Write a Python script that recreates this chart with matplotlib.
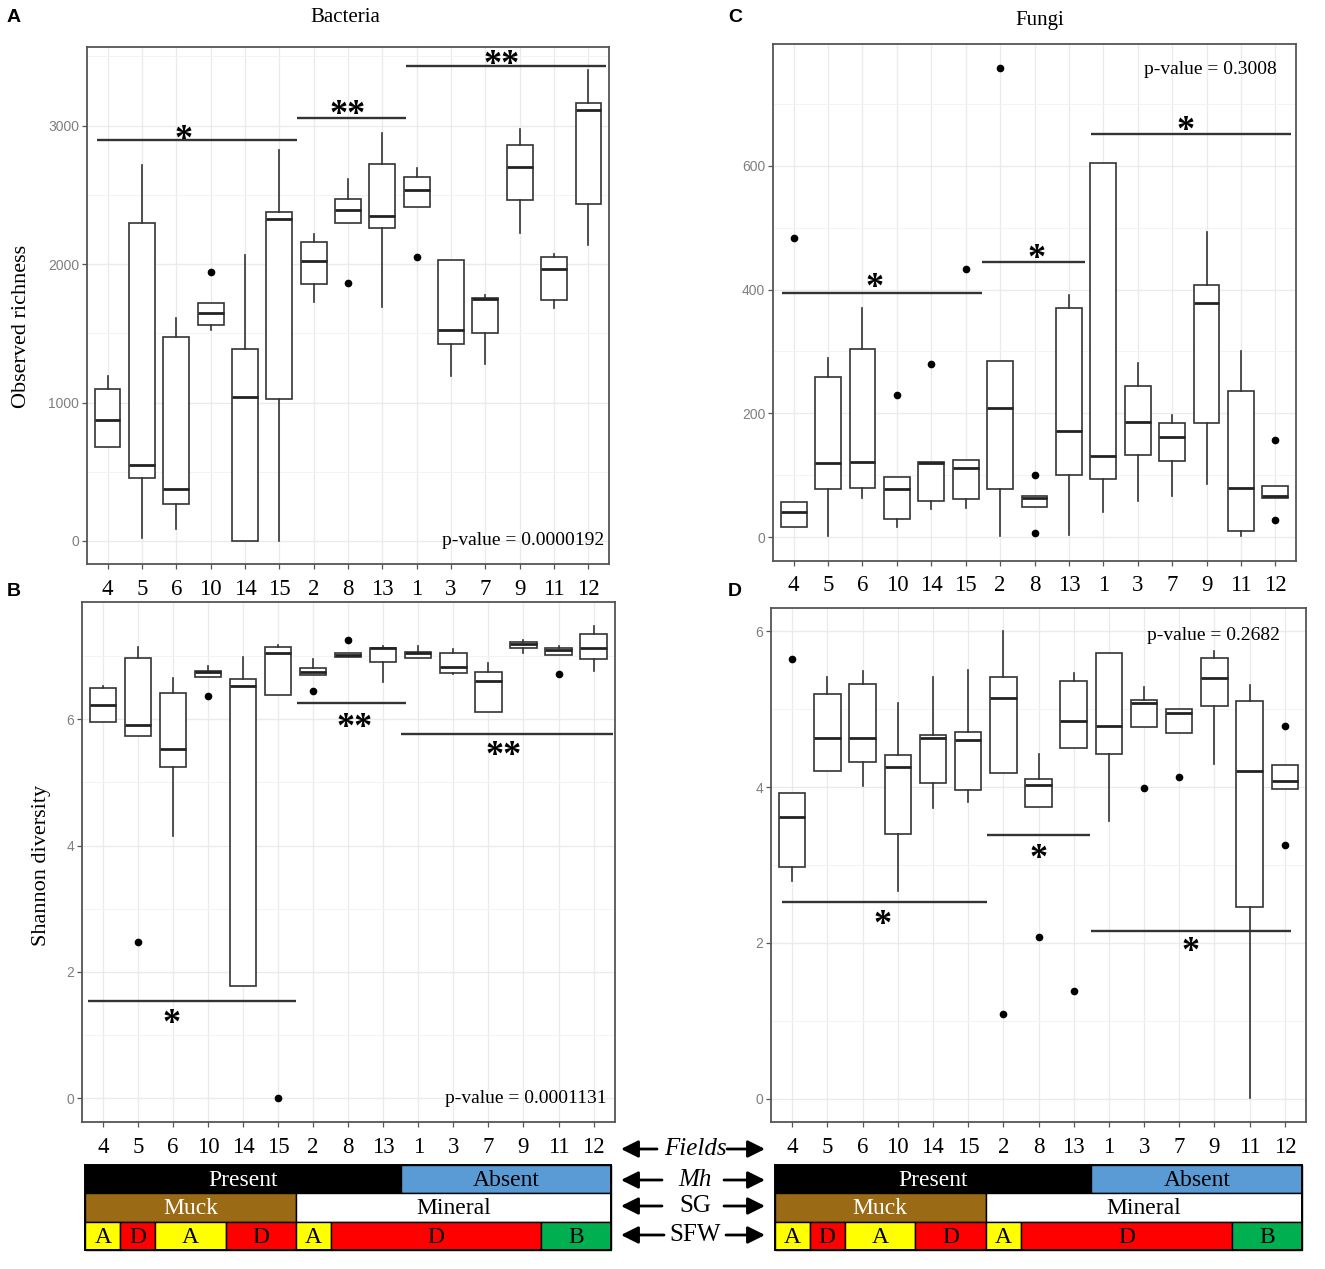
import matplotlib
matplotlib.use('Agg')
import matplotlib.pyplot as plt
from matplotlib.ticker import MultipleLocator, FixedLocator
from matplotlib.patches import Rectangle, FancyArrowPatch
import matplotlib.transforms as mtransforms

W, H = 1325, 1269
SERIF = ['Liberation Serif', 'DejaVu Serif']
SANS = ['Liberation Sans', 'DejaVu Sans']

# ---------------- data ----------------
fields = ['4', '5', '6', '10', '14', '15', '2', '8', '13', '1', '3', '7', '9', '11', '12']

# A: Bacteria observed richness
A_whi = [1195, 2713, 1609, 1717, 2062, 2824, 2214, 2614, 2945, 2691, 2029, 1775, 2973, 2070, 3400]
A_q3 = [1096, 2299, 1471, 1717, 1388, 2374, 2161, 2470, 2724, 2630, 2029, 1758, 2862, 2051, 3160]
A_med = [875, 552, 378, 1648, 1041, 2324, 2020, 2388, 2349, 2534, 1526, 1750, 2699, 1965, 3111]
A_q1 = [682, 455, 270, 1559, 0, 1027, 1858, 2299, 2258, 2415, 1421, 1504, 2462, 1739, 2434]
A_wlo = [682, 19, 83, 1526, 0, 0, 1725, 2299, 1689, 2415, 1192, 1278, 2222, 1684, 2139]
A_out = [[], [], [], [1940], [], [], [], [1863], [], [2051], [], [], [], [], []]
A_sig = [(0.69, 6.52, 2893), (6.52, 9.69, 3058), (9.69, 15.5, 3428)]
A_stars = [(3.22, 2953, '*'), (7.99, 3133, '**'), (12.46, 3497, '**')]
A_p = 'p-value = 0.0000192'

# B: Bacteria Shannon diversity
B_whi = [6.52, 7.14, 6.65, 6.84, 6.99, 7.17, 6.95, 7.04, 7.15, 7.15, 7.11, 6.89, 7.25, 7.15, 7.48]
B_q3 = [6.49, 6.97, 6.42, 6.77, 6.63, 7.14, 6.81, 7.04, 7.13, 7.07, 7.04, 6.75, 7.22, 7.12, 7.34]
B_med = [6.22, 5.91, 5.53, 6.74, 6.52, 7.05, 6.74, 7.01, 7.12, 7.04, 6.82, 6.60, 7.19, 7.09, 7.13]
B_q1 = [5.95, 5.73, 5.24, 6.67, 1.78, 6.38, 6.70, 6.99, 6.90, 6.96, 6.73, 6.11, 7.13, 7.01, 6.95]
B_wlo = [5.95, 5.73, 4.15, 6.67, 1.78, 6.38, 6.70, 6.99, 6.59, 6.96, 6.71, 6.11, 7.05, 7.01, 6.77]
B_out = [[], [2.48], [], [6.36], [], [0.0], [6.44], [7.25], [], [], [], [], [], [6.71], []]
B_sig = [(0.57, 6.52, 1.54), (6.55, 9.65, 6.25), (9.51, 15.55, 5.77)]
B_stars = [(2.97, 1.31, '*'), (8.19, 5.99, '**'), (12.44, 5.55, '**')]
B_p = 'p-value = 0.0001131'

# C: Fungi observed richness
C_whi = [56, 290, 371, 97, 121, 125, 284, 66, 392, 605, 281, 197, 493, 300, 83]
C_q3 = [56, 258, 304, 97, 121, 125, 284, 66, 371, 605, 245, 184, 408, 236, 83]
C_med = [41, 120, 121, 78, 120, 111, 208, 63, 171, 131, 186, 161, 378, 79, 67]
C_q1 = [17, 78, 80, 30, 59, 62, 77, 48, 101, 94, 133, 123, 185, 10, 63]
C_wlo = [17, 1, 63, 16, 46, 47, 2, 48, 4, 40, 58, 67, 86, 1, 63]
C_out = [[483], [], [], [230], [279], [433], [759], [101, 7], [], [], [], [], [], [], [157, 27]]
C_sig = [(0.65, 6.48, 395), (6.48, 9.47, 444), (9.63, 15.45, 651)]
C_stars = [(3.34, 416, '*'), (8.05, 463, '*'), (12.39, 670, '*')]
C_p = 'p-value = 0.3008'

# D: Fungi Shannon diversity
D_whi = [3.92, 5.41, 5.49, 5.08, 5.41, 5.50, 6.00, 4.43, 5.47, 5.72, 5.29, 5.00, 5.75, 5.31, 4.29]
D_q3 = [3.92, 5.20, 5.33, 4.41, 4.67, 4.71, 5.42, 4.10, 5.36, 5.72, 5.12, 5.00, 5.66, 5.10, 4.29]
D_med = [3.62, 4.63, 4.63, 4.26, 4.63, 4.60, 5.14, 4.03, 4.85, 4.78, 5.08, 4.95, 5.40, 4.21, 4.08]
D_q1 = [2.98, 4.21, 4.32, 3.40, 4.05, 3.96, 4.18, 3.75, 4.50, 4.42, 4.77, 4.70, 5.04, 2.46, 3.98]
D_wlo = [2.80, 4.21, 4.02, 2.67, 3.73, 3.81, 4.18, 3.75, 4.50, 3.56, 4.77, 4.70, 4.30, 0.01, 3.98]
D_out = [[5.64], [], [], [], [], [], [1.09], [2.07], [1.38], [], [3.99], [4.13], [], [], [4.79, 3.26]]
D_sig = [(0.70, 6.54, 2.53), (6.54, 9.46, 3.39), (9.50, 15.17, 2.15)]
D_stars = [(3.57, 2.33, '*'), (8.01, 3.18, '*'), (12.31, 1.98, '*')]
D_p = 'p-value = 0.2682'

# annotation groups (label, number of consecutive fields)
mh_groups = [('Present', 9), ('Absent', 6)]
sg_groups = [('Muck', 6), ('Mineral', 9)]
sfw_groups = [('A', 1), ('D', 1), ('A', 2), ('D', 2), ('A', 1), ('D', 6), ('B', 2)]
group_colors = {'Present': '#000000', 'Absent': '#5B9BD5', 'Muck': '#9B6A14',
                'Mineral': '#FFFFFF', 'A': '#FFFF00', 'D': '#FF0000', 'B': '#00B050'}
text_colors = {'Present': 'white', 'Muck': 'white'}

# ---------------- figure ----------------
fig = plt.figure(figsize=(W / 100, H / 100), dpi=100)
fig.patch.set_facecolor('white')


def px_axes(l, t, r, b):
    return fig.add_axes([l / W, 1 - b / H, (r - l) / W, (b - t) / H])


def draw_panel(ax, whi, q3, med, q1, wlo, out, ylim, major, minor, sig, stars, ptxt, pxy):
    stats = []
    for i in range(len(fields)):
        stats.append(dict(med=med[i], q1=q1[i], q3=q3[i], whislo=wlo[i], whishi=whi[i],
                          fliers=out[i], label=fields[i]))
    pos = list(range(1, len(fields) + 1))
    ax.bxp(stats, positions=pos, widths=0.75, patch_artist=True, showcaps=False,
           boxprops=dict(facecolor='white', edgecolor='#333333', linewidth=1.2),
           medianprops=dict(color='#222222', linewidth=2.0),
           whiskerprops=dict(color='#333333', linewidth=1.2),
           flierprops=dict(marker='o', markerfacecolor='black', markeredgecolor='black',
                           markersize=4.5, linestyle='none'))
    ax.set_xlim(0.4, len(fields) + 0.6)
    ax.set_ylim(*ylim)
    ax.set_axisbelow(True)
    ax.yaxis.set_major_locator(MultipleLocator(major))
    ax.yaxis.set_minor_locator(MultipleLocator(minor))
    ax.xaxis.set_major_locator(FixedLocator(pos))
    ax.grid(which='major', color='#EBEBEB', linewidth=1.0)
    ax.grid(which='minor', axis='y', color='#F3F3F3', linewidth=0.7)
    ax.tick_params(which='minor', length=0)
    ax.tick_params(axis='y', which='major', length=3.5, width=0.9, color='#555555',
                   labelcolor='#7F7F7F', labelsize=10, pad=2)
    ax.tick_params(axis='x', which='major', length=3.5, width=0.9, color='#555555',
                   labelcolor='black', labelsize=16.5, pad=7)
    ax.set_xticklabels(fields, fontfamily=SERIF)
    for lab in ax.get_yticklabels():
        lab.set_fontfamily(SANS)
    for s in ax.spines.values():
        s.set_color('#555555')
        s.set_linewidth(1.3)
    for (x0, x1, y) in sig:
        ax.hlines(y, x0, x1, color='#333333', linewidth=1.7)
    fs = 26
    for (x, y, t) in stars:
        tr = mtransforms.offset_copy(ax.transData, fig=fig, y=-0.47 * fs, units='points')
        ax.text(x, y, t, transform=tr, fontsize=fs, fontfamily=SERIF, fontweight='bold',
                ha='center', va='baseline')
    ax.text(pxy[0], pxy[1], ptxt, fontsize=14, fontfamily=SERIF, ha='right', va='center')


axA = px_axes(87, 46.7, 609, 564.5)
axB = px_axes(81.8, 602, 614.6, 1122)
axC = px_axes(773, 44, 1296, 560.6)
axD = px_axes(771, 608, 1306, 1122)

draw_panel(axA, A_whi, A_q3, A_med, A_q1, A_wlo, A_out, (-170, 3570), 1000, 500,
           A_sig, A_stars, A_p, (15.45, 0))
draw_panel(axB, B_whi, B_q3, B_med, B_q1, B_wlo, B_out, (-0.374, 7.854), 2, 1,
           B_sig, B_stars, B_p, (15.38, 0))
draw_panel(axC, C_whi, C_q3, C_med, C_q1, C_wlo, C_out, (-38, 797), 200, 100,
           C_sig, C_stars, C_p, (15.05, 756))
draw_panel(axD, D_whi, D_q3, D_med, D_q1, D_wlo, D_out, (-0.3, 6.3), 2, 1,
           D_sig, D_stars, D_p, (14.86, 5.95))

axA.set_ylabel('Observed richness', fontsize=16, fontfamily=SERIF)
axA.yaxis.set_label_coords(-0.107, 0.46)
axB.set_ylabel('Shannon diversity', fontsize=16, fontfamily=SERIF)
axB.yaxis.set_label_coords(-0.058, 0.494)

fig.text(345 / W, 1 - 18 / H, 'Bacteria', fontsize=15, fontfamily=SERIF, ha='center', va='center')
fig.text(1040 / W, 1 - 20 / H, 'Fungi', fontsize=15, fontfamily=SERIF, ha='center', va='center')
for lab, (x, y) in zip('ABCD', [(14, 18), (14, 592), (735, 18), (735, 592)]):
    fig.text(x / W, 1 - y / H, lab, fontsize=14, fontweight='bold', fontfamily=SANS,
             ha='center', va='center')


# ---------------- annotation bars ----------------
def draw_bars(l, r):
    ax = px_axes(l, 1165, r, 1250)
    ax.set_xlim(0.4, len(fields) + 0.6)
    ax.set_ylim(0, 3)
    ax.axis('off')
    for row, groups in zip([2, 1, 0], [mh_groups, sg_groups, sfw_groups]):
        start = 0.5
        for name, n in groups:
            ax.add_patch(Rectangle((start, row), n, 1, facecolor=group_colors[name],
                                   edgecolor='black', linewidth=1.0, clip_on=False))
            ax.text(start + n / 2, row + 0.45, name, fontsize=17, fontfamily=SERIF,
                    color=text_colors.get(name, 'black'), ha='center', va='center')
            start += n
    ax.add_patch(Rectangle((0.5, 0), len(fields), 3, facecolor='none', edgecolor='black',
                           linewidth=1.4, clip_on=False))


draw_bars(81.8, 614.6)
draw_bars(771, 1306)


# middle labels with arrows
def arrow(x0, x1, y):
    a = FancyArrowPatch((x0 / W, 1 - y / H), (x1 / W, 1 - y / H), transform=fig.transFigure,
                        arrowstyle='-|>', mutation_scale=26, linewidth=2.0, color='black',
                        shrinkA=0, shrinkB=0)
    fig.patches.append(a)


mid_rows = [('Fields', 1149, 'italic', 657, 727),
            ('Mh', 1180, 'italic', 662, 724),
            ('SG', 1206, 'normal', 662, 724),
            ('SFW', 1235, 'normal', 664, 726)]
for txt, y, style, tl, tr in mid_rows:
    fig.text(695 / W, 1 - y / H, txt, fontsize=18, fontfamily=SERIF, fontstyle=style,
             ha='center', va='center')
    arrow(tl, 621, y)
    arrow(tr, 765, y)

fig.savefig('out.png', dpi=100)
